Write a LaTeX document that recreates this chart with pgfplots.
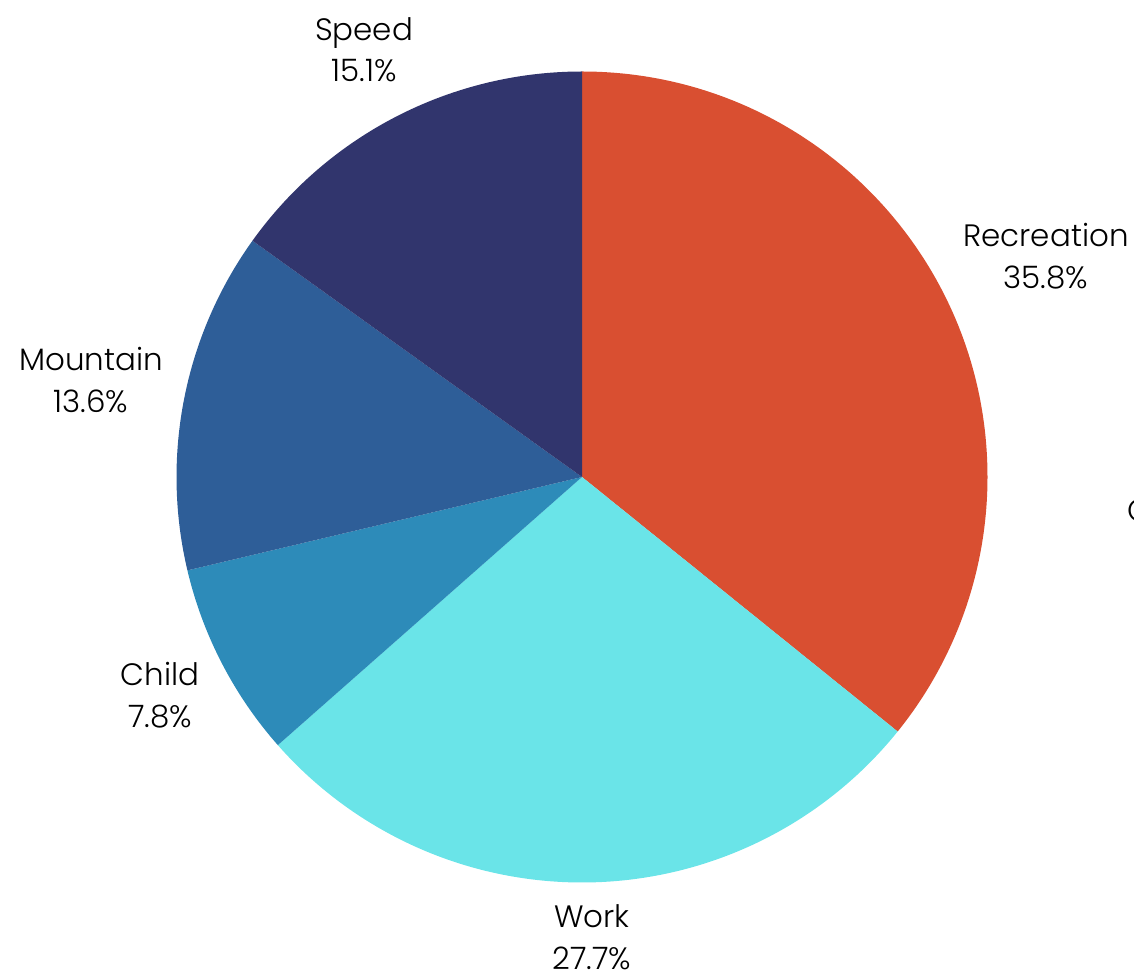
\documentclass[border=0pt]{standalone}
\usepackage{fontspec}
\setmainfont{Poppins Light}
\usepackage{pgfplots}
\pgfplotsset{compat=1.18}
\definecolor{rec}{RGB}{217,79,49}
\definecolor{wrk}{RGB}{106,228,232}
\definecolor{chd}{RGB}{45,139,185}
\definecolor{mtn}{RGB}{46,94,152}
\definecolor{spd}{RGB}{49,53,109}
\newcommand\R{40.55mm}
% slice: cumulative start %, share %, colour
\newcommand\slice[3]{%
  \fill[#3] (axis cs:582,498) -- ++({90-3.6*#1}:\R) arc[start angle={90-3.6*#1}, end angle={90-3.6*(#1+#2)}, radius=\R] -- cycle;}
\tikzset{lbl/.style={font=\fontsize{8.8}{11.8}\selectfont, align=center, text=black, inner sep=0pt}}
\begin{document}
\begin{tikzpicture}
\begin{axis}[
  width=11.34cm, height=9.75cm, scale only axis,
  xmin=0, xmax=1134, ymin=0, ymax=975,
  hide axis, clip=false,
]
\slice{0}{35.8}{rec}
\slice{35.8}{27.7}{wrk}
\slice{63.5}{7.8}{chd}
\slice{71.3}{13.6}{mtn}
\slice{84.9}{15.1}{spd}
\node[lbl] at (axis cs:1046,719) {Recreation\\35.8\%};
\node[lbl] at (axis cs:592,38) {Work\\27.7\%};
\node[lbl] at (axis cs:160,280) {Child\\7.8\%};
\node[lbl] at (axis cs:91,595) {Mountain\\13.6\%};
\node[lbl] at (axis cs:364,925) {Speed\\15.1\%};
\node[lbl, anchor=west] at (axis cs:1127,460) {Category};
\end{axis}
\pgfresetboundingbox
\useasboundingbox (0,0) rectangle (11.34cm,9.75cm);
\end{tikzpicture}
\end{document}
